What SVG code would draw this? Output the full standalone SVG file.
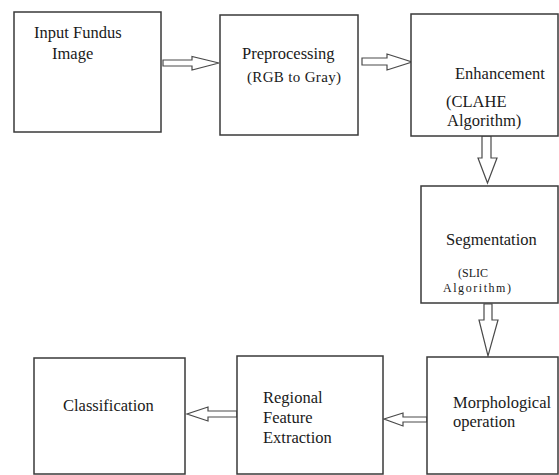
<svg xmlns="http://www.w3.org/2000/svg" width="559" height="475" viewBox="0 0 559 475">
<style>
.box{fill:#fff;stroke:#3a3a3a;stroke-width:1.5}
.arr{fill:#fff;stroke:#4a4a4a;stroke-width:1.2;stroke-linejoin:miter}
text{font-family:'Liberation Serif','DejaVu Serif',serif;font-size:16.5px;fill:#1a1a1a}
.sm{font-size:15px}
.xs{font-size:12px}
</style>
<rect width="559" height="475" fill="#fff"/>
<g id="connectors">
<polygon class="arr" points="163,60 192,60 192,56.5 219,63 192,70 192,66 163,66"/>
<polygon class="arr" points="362,58 387,58 387,54 412,62 387,70 387,65 362,65"/>
<polygon class="arr" points="482,136 491,136 491,158 497,158 487.5,183 478,158 482,158"/>
<polygon class="arr" points="484,304 492,304 492,320 498,320 488,356 479,320 484,320"/>
<polygon class="arr" points="427,417 403,417 403,413 384,419 403,426 403,422 427,422"/>
<polygon class="arr" points="237,411 208,411 208,407 187,414 208,421 208,417 237,417"/>
</g>
<g id="input">
<rect class="box" x="14" y="12" width="147" height="120"/>
<text x="34" y="38" font-family="Liberation Serif, serif">Input Fundus</text>
<text x="52" y="59">Image</text>
</g>
<g id="preprocessing">
<rect class="box" x="220" y="15" width="138" height="120"/>
<text x="242" y="59">Preprocessing</text>
<text class="sm" x="247" y="82" textLength="94">(RGB to Gray)</text>
</g>
<g id="enhancement">
<rect class="box" x="411" y="14" width="147" height="122"/>
<text x="455" y="79">Enhancement</text>
<text x="446" y="107">(CLAHE</text>
<text x="447" y="126">Algorithm)</text>
</g>
<g id="segmentation">
<rect class="box" x="421" y="186" width="137" height="117"/>
<text x="446" y="245">Segmentation</text>
<text class="xs" x="458" y="277" textLength="30">(SLIC</text>
<text class="xs" x="443" y="292" textLength="68">Algorithm)</text>
</g>
<g id="morphological">
<rect class="box" x="427" y="357" width="131" height="117"/>
<text x="453" y="408">Morphological</text>
<text x="453" y="427">operation</text>
</g>
<g id="regional">
<rect class="box" x="237" y="356" width="146" height="118"/>
<text x="263" y="403">Regional</text>
<text x="263" y="423">Feature</text>
<text x="263" y="443">Extraction</text>
</g>
<g id="classification">
<rect class="box" x="34" y="358" width="151" height="116"/>
<text x="63" y="411">Classification</text>
</g>
</svg>
